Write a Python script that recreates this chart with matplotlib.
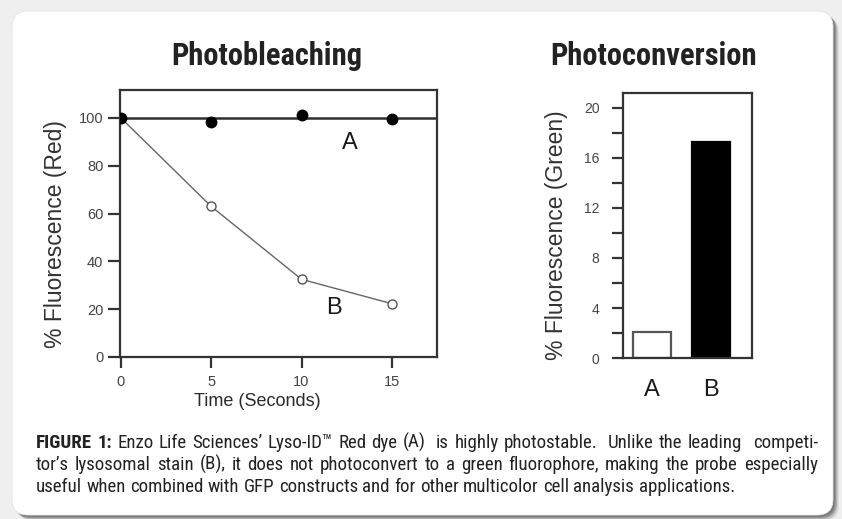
import re
import matplotlib
matplotlib.use('Agg')
import matplotlib.pyplot as plt
from matplotlib import font_manager
from matplotlib.patches import FancyBboxPatch

# Data
time_s = [0, 5, 10, 15]
dye_a = [100, 98.3, 101.3, 99.6]     # Lyso-ID Red (A)
dye_b = [100, 63, 32.5, 22.3]        # competitor stain (B)
bar_labels = ['A', 'B']
green_pct = [2.1, 17.3]

caption_lines = [
    "FIGURE 1: Enzo Life Sciences\u2019 Lyso-ID\u2122 Red dye (A)  is highly photostable.  Unlike the leading  competi-",
    "tor\u2019s lysosomal stain (B), it does not photoconvert to a green fluorophore, making the probe especially",
    "useful when combined with GFP constructs and for other multicolor cell analysis applications.",
]

# Pick a condensed family if there is one
names = {f.name for f in font_manager.fontManager.ttflist}
narrow = 'Liberation Sans'
for cand in ['Liberation Sans Narrow', 'DejaVu Sans Condensed', 'Roboto Condensed', 'Open Sans Condensed']:
    if cand in names:
        narrow = cand
        break
plot_font = 'Liberation Sans'
plt.rcParams['font.family'] = [plot_font, 'DejaVu Sans']

W, H = 842, 519
fig = plt.figure(figsize=(W / 100, H / 100), dpi=100)
fig.patch.set_facecolor('#efefef')

# Card with shadow (pixel units via inches)
for off, a in [(6, 0.10), (5, 0.15), (4, 0.22), (3, 0.30), (2, 0.38)]:
    fig.patches.append(FancyBboxPatch((0.12 + off / 100, 0.04 - off / 100), 8.21, 5.04,
                                      boxstyle='round,pad=0,rounding_size=0.16',
                                      transform=fig.dpi_scale_trans, facecolor='#555555',
                                      edgecolor='none', alpha=a, zorder=-3))
fig.patches.append(FancyBboxPatch((0.12, 0.04), 8.21, 5.04,
                                  boxstyle='round,pad=0,rounding_size=0.16',
                                  transform=fig.dpi_scale_trans, facecolor='white',
                                  edgecolor='#e4e4e4', linewidth=0.6, zorder=-2))


def px_axes(x0, x1, ytop, ybot):
    return fig.add_axes([x0 / W, 1 - ybot / H, (x1 - x0) / W, (ybot - ytop) / H])


spine_c = '#333333'
txt_c = '#2a2a2a'

# ---- Photobleaching ----
ax1 = px_axes(120, 437, 90, 357)
ax1.axhline(100, color='#2e2e2e', linewidth=1.8, zorder=2)
ax1.plot(time_s, dye_b, color='#666666', linewidth=1.0, marker='o', markersize=6.5,
         markerfacecolor='white', markeredgecolor='#555555', markeredgewidth=1.0, zorder=3)
ax1.plot(time_s, dye_a, linestyle='none', marker='o', markersize=7.5,
         color='black', zorder=4)
ax1.set_xlim(-0.05, 17.5)
ax1.set_ylim(0, 111.7)
ax1.set_xticks([0, 5, 10, 15])
ax1.set_yticks([0, 20, 40, 60, 80, 100])
ax1.tick_params(axis='y', length=9, width=1.6, pad=3, labelsize=10.5, colors=spine_c, labelcolor='#444444')
ax1.tick_params(axis='x', length=8, width=1.6, pad=5, labelsize=10.5, colors=spine_c, labelcolor='#444444')
for s in ax1.spines.values():
    s.set_color(spine_c)
    s.set_linewidth(1.6)
ax1.set_ylabel('% Fluorescence (Red)', fontsize=16.5, color='#333333')
ax1.yaxis.set_label_coords(-0.167, 0.461)
ax1.set_xlabel('Time (Seconds)', fontsize=13, color=txt_c)
ax1.xaxis.set_label_coords(0.432, -0.135)
ax1.text(12.7, 89.5, 'A', fontsize=17, ha='center', va='center', color='#1a1a1a')
ax1.text(11.8, 20.5, 'B', fontsize=17, ha='center', va='center', color='#1a1a1a')

# ---- Photoconversion ----
ax2 = px_axes(623, 752, 93, 358)
ax2.bar([0, 1], green_pct, width=0.64, color=['white', 'black'],
        edgecolor=['#555555', 'black'], linewidth=1.6, zorder=2)
ax2.set_xlim(-0.49, 1.69)
ax2.set_ylim(0, 21.2)
ax2.set_xticks([0, 1])
ax2.set_xticklabels(bar_labels)
ax2.set_yticks([0, 4, 8, 12, 16, 20])
ax2.set_yticks([2, 6, 10, 14, 18], minor=True)
ax2.tick_params(axis='y', which='both', length=8, width=1.6, pad=9, labelsize=10,
                colors=spine_c, labelcolor='#444444')
ax2.tick_params(axis='x', length=0, pad=15, labelsize=17, labelcolor='#1a1a1a')
for s in ax2.spines.values():
    s.set_color(spine_c)
    s.set_linewidth(1.6)
ax2.set_ylabel('% Fluorescence (Green)', fontsize=16.5, color='#333333')
ax2.yaxis.set_label_coords(-0.426, 0.465)

# Titles
fig.text(267 / W, 1 - 65 / H, 'Photobleaching', fontsize=22, fontweight='bold',
         family=[narrow, 'DejaVu Sans'], ha='center', va='baseline', color='#222222')
fig.text(654 / W, 1 - 65 / H, 'Photoconversion', fontsize=22, fontweight='bold',
         family=[narrow, 'DejaVu Sans'], ha='center', va='baseline', color='#222222')

# Justified caption
fig.canvas.draw()
rend = fig.canvas.get_renderer()
cap_size = 13.6
x_left, x_right = 36, 818
baselines = [448, 470, 492]


def word_w(w, bold):
    t = fig.text(0, 0, w, fontsize=cap_size, family=[narrow, 'DejaVu Sans'],
                 fontweight='bold' if bold else 'normal')
    ww = t.get_window_extent(rend).width
    t.remove()
    return ww


for i, line in enumerate(caption_lines):
    parts = re.split(r'( +)', line)
    words = parts[0::2]
    gaps = [len(g) for g in parts[1::2]]
    bold_n = 2 if i == 0 else 0
    widths = [word_w(w, k < bold_n) for k, w in enumerate(words)]
    if i < len(caption_lines) - 1:
        unit = (x_right - x_left - sum(widths)) / sum(gaps)
    else:
        unit = word_w('a a', False) - word_w('aa', False)
    x = x_left
    for k, w in enumerate(words):
        fig.text(x / W, 1 - baselines[i] / H, w, fontsize=cap_size,
                 family=[narrow, 'DejaVu Sans'], fontweight='bold' if k < bold_n else 'normal',
                 ha='left', va='baseline', color='#222222')
        x += widths[k]
        if k < len(gaps):
            x += unit * gaps[k]

fig.savefig('out.png', dpi=100, facecolor=fig.get_facecolor())
